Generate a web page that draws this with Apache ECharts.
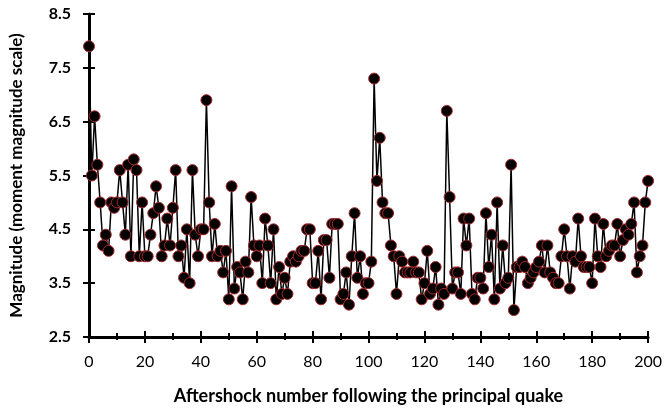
<!DOCTYPE html>
<html>
<head>
<meta charset="utf-8">
<script src="https://cdn.jsdelivr.net/npm/echarts@6/dist/echarts.min.js"></script>
<style>
html,body{margin:0;padding:0;background:#fff;}
#c{width:665px;height:414px;}
</style>
</head>
<body>
<div id="c"></div>
<script>
// Magnitudes of aftershocks 0..200
var seg1 = [7.9,5.5,6.6,5.7,5.0,4.2,4.4,4.1,5.0,4.9,5.0,5.6,5.0,4.4,5.7,4.0,5.8,5.6,4.0,5.0,4.0,4.0,4.4,4.8,5.3,4.9];
var seg2 = [4.0,4.2,4.7,4.2,4.9,5.6,4.0,4.2,3.6,4.5,3.5,5.6,4.4,4.0,4.5,4.5,6.9,5.0,4.0,4.6,4.0,4.1,3.7,4.1,3.2,5.3,3.4,3.8,3.7,3.2,3.9,3.7,5.1,4.2,4.0,4.2,3.5,4.7,4.2,3.5,4.5,3.2,3.8,3.3];
var seg3 = [3.6,3.3,3.9,4.0,3.9,4.0,4.1,4.1,4.5,4.5,3.5,3.5,4.1,3.2,4.3,4.3,3.6,4.6,4.6,4.6,3.2,3.3,3.7,3.1,4.0,4.8,3.6,4.0,3.3,3.5,3.5,3.9,7.3,5.4,6.2,5.0,4.8,4.8,4.2,4.0,3.3,4.0,3.9,3.7];
var seg4 = [3.7,3.7,3.9,3.7,3.7,3.2,3.5,4.1,3.3,3.4,3.8,3.1,3.4,3.3,6.7,5.1,3.4,3.7,3.7,3.3,4.7,4.2,4.7,3.3,3.2,3.6,3.6,3.4,4.8,3.8,4.4,3.2,5.0,3.4,4.2,3.5,3.6,5.7,3.0,3.8,3.8,3.9,3.8,3.5];
var seg5 = [3.6,3.7,3.8,3.9,4.2,3.7,4.2,3.7,3.6,3.5,3.5,4.0,4.5,4.0,3.4,4.0,3.9,4.7,4.0,3.8,3.8,3.8,3.5,4.7,4.0,3.8,4.6,4.0,4.1,4.2,4.2,4.6,4.0,4.3,4.5,4.4,4.6,5.0,3.7,4.0,4.2,5.0,5.4];
var magnitudes = seg1.concat(seg2, seg3, seg4, seg5);
var xTicks = [0,20,40,60,80,100,120,140,160,180,200];
var yTicks = [2.5,3.5,4.5,5.5,6.5,7.5,8.5];

var data = magnitudes.map(function(v,i){return [i,v];});
var FONT = 'Lato, "Liberation Sans", sans-serif';

var chart = echarts.init(document.getElementById('c'), null, {renderer:'canvas'});
var axisLine = {show:true, lineStyle:{color:'#000', width:3}};
chart.setOption({
  animation:false,
  backgroundColor:'#fff',
  grid:{left:89, right:15, top:14, bottom:77, containLabel:false},
  xAxis:[{
    type:'value', min:0, max:200, interval:20,
    axisLine:axisLine,
    axisTick:{show:true, length:6, lineStyle:{color:'#000', width:2}},
    minorTick:{show:true, splitNumber:2, length:3, lineStyle:{color:'#000', width:2}},
    splitLine:{show:false},
    axisLabel:{color:'#000', fontFamily:FONT, fontSize:16, margin:17},
    name:'Aftershock number following the principal quake',
    nameLocation:'middle', nameGap:50,
    nameTextStyle:{color:'#000', fontFamily:FONT, fontWeight:'bold', fontSize:18}
  },{
    type:'value', min:0, max:200, interval:20, position:'bottom',
    axisLine:{show:false},
    axisTick:{show:true, inside:true, length:6, lineStyle:{color:'#000', width:2}},
    minorTick:{show:true, splitNumber:2, length:4, lineStyle:{color:'#000', width:2}},
    splitLine:{show:false}, axisLabel:{show:false}
  }],
  yAxis:[{
    type:'value', min:2.5, max:8.5, interval:1,
    axisLine:axisLine,
    axisTick:{show:true, length:6, lineStyle:{color:'#000', width:2}},
    splitLine:{show:false},
    axisLabel:{color:'#000', fontFamily:FONT, fontWeight:'bold', fontSize:16, margin:18,
      formatter:function(v){return v.toFixed(1);}},
    name:'Magnitude (moment magnitude scale)',
    nameLocation:'middle', nameGap:64,
    nameTextStyle:{color:'#000', fontFamily:FONT, fontWeight:'bold', fontSize:17}
  },{
    type:'value', min:2.5, max:8.5, interval:1, position:'left',
    axisLine:{show:false},
    axisTick:{show:true, inside:true, length:6, lineStyle:{color:'#000', width:2}},
    splitLine:{show:false}, axisLabel:{show:false}
  }],
  series:[{
    type:'line',
    data:data,
    symbol:'circle',
    symbolSize:11,
    lineStyle:{color:'#000', width:1.5},
    itemStyle:{color:'#000', borderColor:'#a52a2a', borderWidth:1},
    z:3
  }]
});
</script>
</body>
</html>
